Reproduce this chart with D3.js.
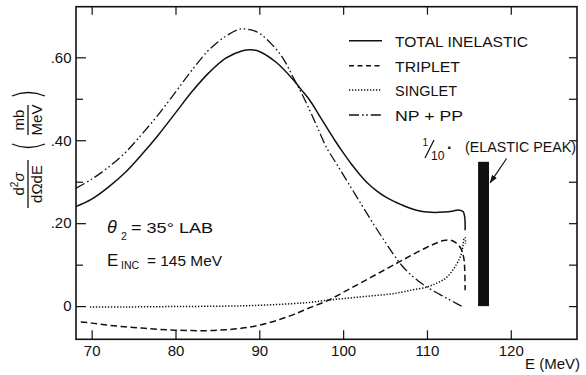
<!DOCTYPE html>
<html>
<head>
<meta charset="utf-8">
<script src="https://cdn.jsdelivr.net/npm/d3@7"></script>
<style>
  body { margin: 0; background: #fff; }
  text { font-family: "Liberation Sans", Arial, sans-serif; fill: #111; }
</style>
</head>
<body>
<svg id="chart"></svg>
<script>
// energies (MeV) and cross sections (mb/MeV)
const totalE = [68.1, 70, 72, 74, 76, 78, 80, 82, 84, 86, 88, 89, 90, 92, 94, 95, 96, 97, 98, 99, 100, 101, 102, 103, 104, 105, 106, 107, 108, 109, 110, 111, 112, 113, 113.8, 114.3, 114.5, 114.55];
const totalV = [0.240, 0.258, 0.287, 0.322, 0.366, 0.414, 0.466, 0.518, 0.563, 0.598, 0.616, 0.618, 0.614, 0.588, 0.547, 0.522, 0.497, 0.465, 0.432, 0.400, 0.370, 0.342, 0.317, 0.295, 0.278, 0.264, 0.253, 0.244, 0.236, 0.230, 0.227, 0.226, 0.227, 0.229, 0.232, 0.228, 0.215, 0.183];

const tripletE = [68.7, 70, 72, 74, 76, 78, 80, 82, 84, 86, 88, 90, 92, 94, 96, 98, 100, 102, 104, 106, 108, 110, 111, 112, 112.8, 113.5, 114.1, 114.4, 114.5, 114.55];
const tripletV = [-0.038, -0.041, -0.046, -0.050, -0.053, -0.056, -0.058, -0.059, -0.059, -0.057, -0.053, -0.046, -0.035, -0.021, -0.004, 0.012, 0.033, 0.055, 0.077, 0.099, 0.121, 0.142, 0.151, 0.158, 0.159, 0.152, 0.137, 0.115, 0.090, 0.038];

const singletE = [69.8, 74, 80, 86, 90, 94, 96, 98, 100, 102, 104, 106, 108, 110, 111, 112, 112.8, 113.5, 114, 114.3, 114.45, 114.55, 114.6];
const singletV = [-0.002, -0.002, -0.001, 0.000, 0.002, 0.006, 0.009, 0.014, 0.018, 0.022, 0.026, 0.030, 0.038, 0.046, 0.054, 0.064, 0.079, 0.100, 0.120, 0.145, 0.165, 0.165, 0.150];

const npppE = [68.1, 70, 72, 74, 76, 78, 80, 82, 84, 86, 87.7, 89, 90, 92, 93, 94, 95, 96, 97, 98, 99, 100, 101, 102, 103, 104, 105, 106, 107, 108, 109, 110, 111, 112, 113, 114.3];
const npppV = [0.284, 0.306, 0.335, 0.370, 0.415, 0.463, 0.516, 0.570, 0.618, 0.651, 0.668, 0.666, 0.658, 0.620, 0.592, 0.553, 0.515, 0.473, 0.428, 0.383, 0.350, 0.317, 0.284, 0.251, 0.218, 0.186, 0.155, 0.125, 0.098, 0.077, 0.060, 0.046, 0.034, 0.023, 0.012, -0.002];

// elastic peak (scaled by 1/10)
const elasticE = [116.1, 117.4];
const elasticV = 0.348;

const seriesNames = ["TOTAL INELASTIC", "TRIPLET", "SINGLET", "NP + PP"];
const xTicks = [70, 80, 90, 100, 110, 120];
const yTicksMajor = [0, 0.2, 0.4, 0.6];
const yTicksMinor = [0.1, 0.3, 0.5];
const yTicksRight = [0, 0.1, 0.2, 0.3, 0.4, 0.5, 0.6];

const width = 586, height = 375;
const svg = d3.select("#chart").attr("width", width).attr("height", height);

const x = d3.scaleLinear().domain([68.13, 127.9]).range([76, 577]);
const y = d3.scaleLinear().domain([-0.08, 0.722]).range([339.3, 6.7]);

const styles = [
  { dash: null, w: 1.5 },
  { dash: "6.5,3.5", w: 1.5 },
  { dash: "1.3,1.7", w: 1.5 },
  { dash: "10,3,1.6,2.6,1.6,3", w: 1.3 }
];

// frame
svg.append("rect")
  .attr("x", x.range()[0]).attr("y", y.range()[1])
  .attr("width", x.range()[1] - x.range()[0])
  .attr("height", y.range()[0] - y.range()[1])
  .attr("fill", "none").attr("stroke", "#111").attr("stroke-width", 1.6);

function styleAxis(g) {
  g.select(".domain").remove();
  g.selectAll("line").attr("stroke", "#111").attr("stroke-width", 1.2);
  g.selectAll("text").attr("font-size", 15).attr("font-family", "Liberation Sans, Arial, sans-serif").attr("fill", "#111");
}

svg.append("g")
  .attr("transform", "translate(0," + y.range()[0] + ")")
  .call(d3.axisBottom(x).tickValues(xTicks).tickSize(-9).tickPadding(6).tickFormat(d3.format("d")))
  .call(styleAxis);

svg.append("g")
  .attr("transform", "translate(0," + y.range()[1] + ")")
  .call(d3.axisTop(x).tickValues(xTicks).tickSize(-8).tickFormat(""))
  .call(styleAxis);

svg.append("g")
  .attr("transform", "translate(" + x.range()[0] + ",0)")
  .call(d3.axisLeft(y).tickValues(yTicksMajor).tickSize(-10).tickPadding(4.5)
    .tickFormat(d => d === 0 ? "0" : d3.format(".2f")(d).replace(/^0/, "")))
  .call(styleAxis);

svg.append("g")
  .attr("transform", "translate(" + x.range()[0] + ",0)")
  .call(d3.axisLeft(y).tickValues(yTicksMinor).tickSize(-7).tickFormat(""))
  .call(styleAxis);

svg.append("g")
  .attr("transform", "translate(" + x.range()[1] + ",0)")
  .call(d3.axisRight(y).tickValues(yTicksRight).tickSize(-8).tickFormat(""))
  .call(styleAxis);

// curves
const line = d3.line()
  .x(d => x(d[0])).y(d => y(d[1]))
  .curve(d3.curveCatmullRom.alpha(0.5));

const series = [
  d3.zip(totalE, totalV),
  d3.zip(tripletE, tripletV),
  d3.zip(singletE, singletV),
  d3.zip(npppE, npppV)
];

series.forEach((pts, i) => {
  svg.append("path")
    .datum(pts)
    .attr("fill", "none")
    .attr("stroke", "#111")
    .attr("stroke-width", styles[i].w)
    .attr("stroke-dasharray", styles[i].dash)
    .attr("d", line);
});

// elastic peak bar
svg.append("rect")
  .attr("x", x(elasticE[0]))
  .attr("width", x(elasticE[1]) - x(elasticE[0]))
  .attr("y", y(elasticV))
  .attr("height", y(0) - y(elasticV))
  .attr("fill", "#111");

// arrow
svg.append("defs").append("marker")
  .attr("id", "arr").attr("viewBox", "0 0 10 10")
  .attr("refX", 9).attr("refY", 5)
  .attr("markerWidth", 7).attr("markerHeight", 7)
  .attr("orient", "auto")
  .append("path").attr("d", "M0,1.5L10,5L0,8.5z").attr("fill", "#111");

svg.append("line")
  .attr("x1", x(119.5)).attr("y1", y(0.356))
  .attr("x2", x(117.55)).attr("y2", y(0.298))
  .attr("stroke", "#111").attr("stroke-width", 1.2)
  .attr("marker-end", "url(#arr)");

// elastic label: 1/10 · (ELASTIC PEAK)
svg.append("text").attr("x", 422.5).attr("y", 146).attr("font-size", 10).text("1");
svg.append("line").attr("x1", 425).attr("y1", 158).attr("x2", 434).attr("y2", 140)
  .attr("stroke", "#111").attr("stroke-width", 1.2);
svg.append("text").attr("x", 431).attr("y", 160).attr("font-size", 12).text("10");
svg.append("text").attr("x", 447).attr("y", 153).attr("font-size", 16).attr("font-weight", "bold").text("·");
svg.append("text").attr("x", 465).attr("y", 152).attr("font-size", 15)
  .attr("textLength", 111).attr("lengthAdjust", "spacingAndGlyphs").text("(ELASTIC PEAK)");

// legend
const legendY = [40.7, 65.7, 90, 115];
const legendW = [133, 65, 62, 68];
seriesNames.forEach((name, i) => {
  svg.append("line")
    .attr("x1", 349).attr("x2", 382)
    .attr("y1", legendY[i]).attr("y2", legendY[i])
    .attr("stroke", "#111")
    .attr("stroke-width", styles[i].w)
    .attr("stroke-dasharray", i === 1 ? "5,3.5" : styles[i].dash);
  svg.append("text")
    .attr("x", 395).attr("y", legendY[i] + 5.8)
    .attr("font-size", 15.5)
    .attr("textLength", legendW[i]).attr("lengthAdjust", "spacingAndGlyphs")
    .text(name);
});

// annotations
svg.append("text").attr("x", 107).attr("y", 232.5).attr("font-size", 18).attr("font-style", "italic").text("θ");
svg.append("text").attr("x", 121).attr("y", 240).attr("font-size", 10.5).text("2");
svg.append("text").attr("x", 131).attr("y", 232.5).attr("font-size", 14.5)
  .attr("textLength", 82).attr("lengthAdjust", "spacingAndGlyphs").text("= 35° LAB");

svg.append("text").attr("x", 107).attr("y", 265.7).attr("font-size", 17).text("E");
svg.append("text").attr("x", 121).attr("y", 268.5).attr("font-size", 10.5).text("INC");
svg.append("text").attr("x", 147).attr("y", 265.5).attr("font-size", 14.5)
  .attr("textLength", 75).attr("lengthAdjust", "spacingAndGlyphs").text("= 145 MeV");

// x label
svg.append("text").attr("x", 525).attr("y", 369).attr("font-size", 15)
  .attr("textLength", 55).attr("lengthAdjust", "spacingAndGlyphs").text("E (MeV)");

// y label: two rotated fractions
const f1 = svg.append("g").attr("transform", "translate(28,184) rotate(-90)");
const num = f1.append("text").attr("text-anchor", "middle").attr("y", -4).attr("font-size", 15);
num.append("tspan").text("d");
num.append("tspan").attr("font-size", 10).attr("dy", -6).text("2");
num.append("tspan").attr("font-style", "italic").attr("dy", 6).text("σ");
f1.append("line").attr("x1", -24).attr("x2", 24).attr("stroke", "#111").attr("stroke-width", 1.3);
f1.append("text").attr("text-anchor", "middle").attr("y", 14).attr("font-size", 15).text("dΩdE");

const f2 = svg.append("g").attr("transform", "translate(28,120) rotate(-90)");
f2.append("text").attr("text-anchor", "middle").attr("y", -4).attr("font-size", 15).text("mb");
f2.append("line").attr("x1", -15).attr("x2", 15).attr("stroke", "#111").attr("stroke-width", 1.3);
f2.append("text").attr("text-anchor", "middle").attr("y", 14).attr("font-size", 15).text("MeV");
// thin tall parentheses drawn as curves
f2.append("path").attr("d", "M-24,-16 Q-31,0 -24,17")
  .attr("fill", "none").attr("stroke", "#111").attr("stroke-width", 1.3);
f2.append("path").attr("d", "M24,-16 Q31,0 24,17")
  .attr("fill", "none").attr("stroke", "#111").attr("stroke-width", 1.3);
</script>
</body>
</html>
